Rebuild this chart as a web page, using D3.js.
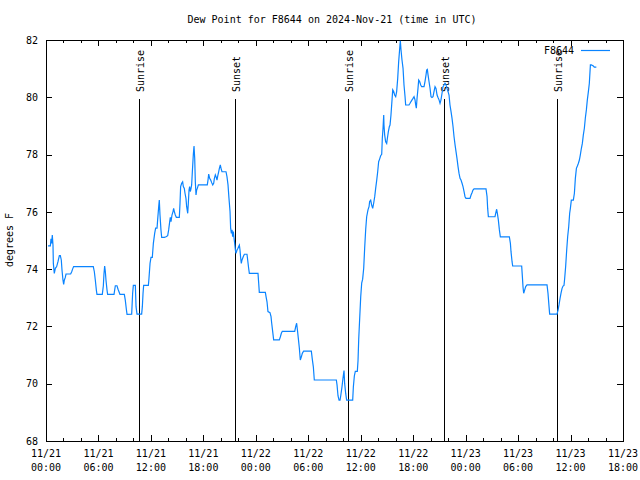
<!DOCTYPE html>
<html><head><meta charset="utf-8">
<script src="https://cdn.jsdelivr.net/npm/d3@7"></script>
<style>body{margin:0;background:#fff}</style>
</head><body>
<svg id="c" width="640" height="480"></svg>
<script>
// Hours after 2024-11-21 00:00 UTC
const hours = [
0.23,0.50,0.57,0.65,0.72,0.80,0.84,0.95,1.07,1.22,1.37,1.53,1.64,1.75,1.83,1.94,2.02,2.10,2.21,2.29,
2.82,2.94,3.05,3.16,5.41,5.53,5.64,5.76,5.83,6.44,6.56,6.63,6.71,6.79,6.86,6.98,7.05,7.78,7.93,8.12,
8.24,8.35,8.46,8.96,9.07,9.19,9.27,9.80,9.91,9.99,10.22,10.30,10.41,10.94,11.02,11.10,11.17,11.71,11.78,11.90,
12.01,12.16,12.28,12.43,12.54,12.70,12.77,12.89,12.96,13.04,13.15,13.23,13.54,13.73,13.92,14.03,14.15,14.22,14.30,14.41,
14.53,14.60,14.68,14.79,14.91,15.25,15.33,15.40,15.52,15.63,15.71,15.82,15.90,16.01,16.09,16.21,16.28,16.36,16.43,16.51,
16.59,16.66,16.74,16.85,16.93,17.01,17.08,17.16,17.23,17.31,17.43,18.45,18.53,18.61,18.72,18.84,18.95,19.07,19.18,19.26,
19.37,19.45,19.56,19.64,19.75,19.83,19.94,20.02,20.13,20.59,20.70,20.82,20.93,21.05,21.12,21.20,21.28,21.35,21.43,21.51,
21.58,21.66,21.73,21.85,21.96,22.04,22.12,22.19,22.27,22.34,22.42,22.57,22.69,22.99,23.07,23.18,23.26,24.25,24.33,24.40,
25.09,25.17,25.28,25.39,25.62,25.74,25.81,25.93,26.04,26.69,26.81,26.92,27.03,28.45,28.56,28.67,28.75,28.86,28.98,29.09,
29.21,29.32,29.47,30.35,30.47,30.58,30.69,33.21,33.29,33.40,33.52,33.63,33.71,33.86,33.97,34.09,34.16,34.28,34.39,35.08,
35.16,35.27,35.38,35.61,35.69,35.77,35.88,36.00,36.11,36.22,36.34,36.45,36.57,36.68,36.83,36.95,37.02,37.14,37.25,37.37,
37.48,37.60,37.71,37.83,37.94,38.05,38.17,38.28,38.40,38.47,38.55,38.63,38.66,38.74,38.85,38.97,39.05,39.16,39.27,39.35,
39.46,39.58,39.66,39.77,39.88,40.00,40.11,40.23,40.34,40.46,40.53,40.61,40.72,40.84,40.95,41.07,41.14,41.52,41.64,41.75,
41.87,41.98,42.10,42.21,42.29,42.36,42.44,42.55,42.63,42.74,42.86,42.97,43.24,43.35,43.47,43.54,43.62,43.70,43.81,43.93,
44.04,44.15,44.27,44.38,44.50,44.61,44.73,44.84,44.96,45.07,45.18,45.30,45.41,45.53,45.64,45.76,45.87,45.99,46.10,46.21,
46.33,46.44,46.56,46.67,46.79,46.90,47.01,47.13,47.24,47.36,47.47,47.59,47.70,47.82,47.93,48.04,48.50,48.62,48.73,48.84,
48.96,50.33,50.45,50.52,50.60,51.36,51.48,51.55,51.63,51.74,51.86,51.97,53.00,53.12,53.19,53.31,53.38,54.41,54.49,54.56,
54.64,54.75,54.87,55.02,57.31,57.42,57.54,57.61,58.45,58.57,58.68,58.80,58.91,59.03,59.14,59.25,59.33,59.44,59.56,59.67,
59.79,59.90,59.98,60.09,60.32,60.44,60.55,60.67,60.78,60.89,61.01,61.12,61.24,61.35,61.46,61.58,61.69,61.81,61.92,62.04,
62.15,62.27,62.38,62.61,62.72,62.95
];
const dewF = [
74.81,74.81,75.06,74.90,75.19,74.84,74.20,73.85,74.03,74.09,74.26,74.47,74.47,74.32,73.97,73.62,73.47,73.62,73.71,73.83,
73.83,73.91,74.01,74.09,74.09,73.91,73.62,73.27,73.12,73.12,73.42,73.83,74.11,73.91,73.62,73.27,73.12,73.12,73.42,73.42,
73.30,73.21,73.12,73.12,72.92,72.60,72.42,72.43,73.16,73.43,73.43,72.69,72.43,72.43,72.69,73.16,73.43,73.43,73.68,74.20,
74.41,74.41,74.90,75.25,75.43,75.43,75.72,76.18,76.41,75.89,75.37,75.11,75.11,75.13,75.17,75.37,75.66,75.81,75.66,75.89,
76.01,76.12,76.01,75.89,75.81,75.81,76.30,76.88,77.00,77.05,76.88,76.82,76.65,76.47,76.18,75.95,76.30,76.76,76.88,76.71,
76.82,76.94,77.40,77.99,78.30,77.87,77.05,76.59,76.76,76.82,76.94,76.94,77.11,77.32,77.17,77.11,77.02,76.94,77.00,77.17,
77.29,77.23,77.11,77.25,77.40,77.52,77.64,77.52,77.40,77.40,77.23,76.94,76.47,76.01,75.43,75.25,75.37,75.13,75.31,75.08,
74.90,74.67,74.55,74.67,74.73,74.79,74.84,74.67,74.38,74.20,74.32,74.44,74.52,74.52,74.32,74.03,73.85,73.85,73.51,73.19,
73.19,73.04,72.86,72.52,72.48,72.34,72.13,71.82,71.53,71.53,71.64,71.76,71.83,71.83,71.99,72.11,71.90,71.59,71.24,70.83,
70.94,71.06,71.14,71.14,70.83,70.59,70.13,70.13,69.96,69.58,69.43,69.43,69.57,69.90,70.19,70.46,70.01,69.66,69.43,69.43,
69.90,70.27,70.43,70.43,70.80,71.55,72.28,73.04,73.51,73.65,74.03,74.73,75.39,75.83,76.07,76.18,76.36,76.41,76.24,76.12,
76.30,76.53,76.82,77.11,77.40,77.75,77.85,77.96,78.01,78.57,78.92,79.38,79.03,78.68,78.45,78.39,78.57,78.80,78.97,79.03,
79.38,79.91,80.26,80.20,80.08,80.02,80.20,80.66,81.24,81.71,81.97,81.65,81.30,81.01,80.43,80.02,79.73,79.73,79.79,79.85,
79.91,79.96,80.02,79.91,79.73,79.62,79.96,80.31,80.60,80.55,80.43,80.37,80.37,80.55,80.78,80.95,80.97,80.78,80.55,80.31,
80.02,79.99,80.02,80.20,80.37,80.31,80.08,79.99,79.91,79.79,79.91,80.14,80.37,80.43,80.49,80.43,80.31,80.20,80.08,79.73,
79.50,79.27,78.97,78.63,78.34,78.10,77.87,77.58,77.35,77.17,77.11,77.00,76.88,76.71,76.53,76.47,76.47,76.59,76.67,76.76,
76.80,76.80,76.53,76.12,75.83,75.83,76.01,76.09,75.95,75.72,75.37,75.13,75.13,74.90,74.61,74.26,74.11,74.11,73.74,73.39,
73.16,73.27,73.39,73.45,73.45,73.16,72.69,72.43,72.43,72.57,72.75,72.98,73.16,73.33,73.41,73.43,73.68,74.09,74.67,75.13,
75.48,75.95,76.12,76.41,76.41,76.65,77.17,77.52,77.60,77.69,77.81,77.99,78.22,78.39,78.68,78.92,79.27,79.56,79.91,80.20,
80.49,81.13,81.13,81.09,81.05,81.05
];
const sunriseHours = [10.67, 34.58, 58.49];
const sunsetHours = [21.66, 45.57];
const yTicks = [68, 70, 72, 74, 76, 78, 80, 82];
const seriesName = "F8644";
const titleText = "Dew Point for F8644 on 2024-Nov-21 (time in UTC)";
const yLabel = "degrees F";

const t0 = Date.UTC(2024, 10, 21, 0, 0);
const toDate = h => new Date(t0 + h * 3600000);
const data = hours.map((h, i) => ({t: toDate(h), v: dewF[i]}));

const W = 640, H = 480;
const L = 46, R = 623, T = 40, B = 441;
const FONT = "'DejaVu Sans Mono', 'Liberation Mono', monospace";
const svg = d3.select("#c");

const x = d3.scaleUtc().domain([toDate(0), toDate(66)]).range([L, R]);
const y = d3.scaleLinear().domain([68, 82]).range([B, T]);
const px = v => Math.round(v) + 0.5;

// axes ticks
const majorTicks = d3.range(0, 67, 6).map(toDate);
const minorTicks = d3.range(0, 67, 2).filter(h => h % 6 !== 0).map(toDate);

function styleAxis(g) {
  g.select(".domain").remove();
  g.selectAll("line").attr("stroke", "#000").attr("shape-rendering", "crispEdges");
}
svg.append("g").attr("transform", `translate(0,${B})`)
  .call(d3.axisBottom(x).tickValues(majorTicks).tickSize(-6).tickFormat(""))
  .call(styleAxis);
svg.append("g").attr("transform", `translate(0,${B})`)
  .call(d3.axisBottom(x).tickValues(minorTicks).tickSize(-3).tickFormat(""))
  .call(styleAxis);
svg.append("g").attr("transform", `translate(0,${T})`)
  .call(d3.axisTop(x).tickValues(majorTicks).tickSize(-6).tickFormat(""))
  .call(styleAxis);
svg.append("g").attr("transform", `translate(0,${T})`)
  .call(d3.axisTop(x).tickValues(minorTicks).tickSize(-3).tickFormat(""))
  .call(styleAxis);
const yl = svg.append("g").attr("transform", `translate(${L},0)`)
  .call(d3.axisLeft(y).tickValues(yTicks).tickSize(-6).tickPadding(8).tickFormat(d3.format("d")))
  .call(styleAxis);
yl.selectAll("text").attr("font-family", FONT).attr("font-size", 10).attr("fill", "#000");
yl.attr("font-family", FONT);
svg.append("g").attr("transform", `translate(${R},0)`)
  .call(d3.axisRight(y).tickValues(yTicks).tickSize(-6).tickFormat(""))
  .call(styleAxis);

// x tick labels (two lines)
const fmtD = d3.utcFormat("%m/%d"), fmtT = d3.utcFormat("%H:%M");
const xl = svg.append("g").attr("font-family", FONT).attr("font-size", 10).attr("text-anchor", "middle");
majorTicks.forEach(d => {
  const tx = xl.append("text").attr("x", x(d)).attr("y", 457);
  tx.append("tspan").attr("x", x(d)).text(fmtD(d));
  tx.append("tspan").attr("x", x(d)).attr("dy", 14).text(fmtT(d));
});

// sunrise / sunset markers
const events = sunriseHours.map(h => ({h, label: "Sunrise"}))
  .concat(sunsetHours.map(h => ({h, label: "Sunset"})));
events.forEach(e => {
  const ex = px(x(toDate(e.h)));
  svg.append("line").attr("x1", ex).attr("x2", ex).attr("y1", 99).attr("y2", B)
    .attr("stroke", "#000").attr("stroke-width", 1);
  svg.append("text").attr("transform", `translate(${ex + 4},92) rotate(-90)`)
    .attr("font-family", FONT).attr("font-size", 10).text(e.label);
});

// frame
svg.append("rect").attr("x", L + 0.5).attr("y", T + 0.5).attr("width", R - L).attr("height", B - T)
  .attr("fill", "none").attr("stroke", "#000").attr("stroke-width", 1);

// data line
const line = d3.line().x(d => x(d.t)).y(d => y(d.v));
svg.append("path").datum(data).attr("d", line)
  .attr("fill", "none").attr("stroke", "#0a84ff").attr("stroke-width", 1.2);

// legend
svg.append("text").attr("x", 574).attr("y", 54).attr("text-anchor", "end")
  .attr("font-family", FONT).attr("font-size", 10).text(seriesName);
svg.append("line").attr("x1", 581).attr("x2", 610).attr("y1", 50.5).attr("y2", 50.5)
  .attr("stroke", "#0a84ff").attr("stroke-width", 1.2);

// title and y label
svg.append("text").attr("x", 332).attr("y", 23).attr("text-anchor", "middle")
  .attr("font-family", FONT).attr("font-size", 10).text(titleText);
svg.append("text").attr("transform", "translate(13,240) rotate(-90)").attr("text-anchor", "middle")
  .attr("font-family", FONT).attr("font-size", 10).text(yLabel);
</script>
</body></html>
